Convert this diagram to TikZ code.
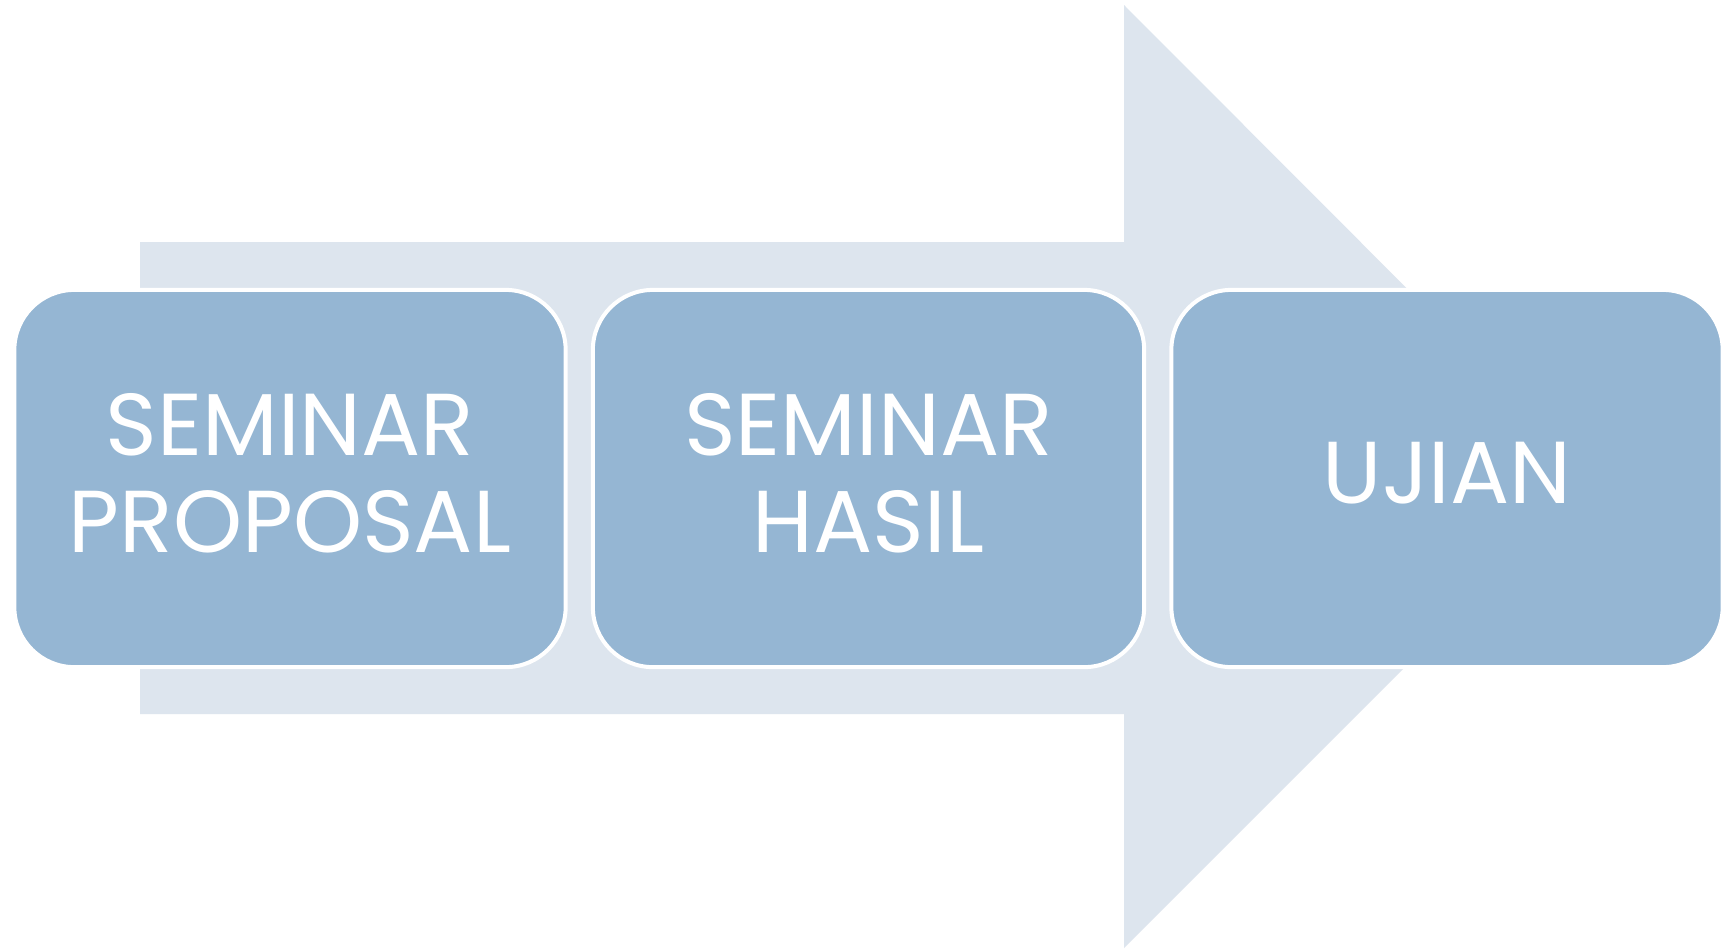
\documentclass[tikz,border=0pt]{standalone}
\usepackage{fontspec}
\setmainfont{Poppins}
\definecolor{shaftblue}{HTML}{DDE5EE}
\definecolor{boxblue}{HTML}{95B6D3}
\tikzset{
  stagebox/.style={draw=white,line width=0.04cm,fill=boxblue,rounded corners=0.6cm,
    minimum width=5.51cm,minimum height=3.77cm,align=center,text=white,
    font=\fontsize{25}{27.6}\selectfont,inner sep=0pt,text depth=0.11cm},
}
\begin{document}
\begin{tikzpicture}[x=0.01cm,y=-0.01cm]
    \fill[white] (0,0) rectangle (1731,950);
    \useasboundingbox (0,0) rectangle (1731,950);

    \fill[shaftblue] (140,242) -- (1124,242) -- (1124,5) -- (1595,477) -- (1124,948) -- (1124,714) -- (140,714) -- cycle;

    \node[stagebox] (proposal) at (290,478.5) {SEMINAR\\PROPOSAL};
    \node[stagebox] (hasil) at (868.5,478.5) {SEMINAR\\HASIL};
    \node[stagebox] (ujian) at (1447,478.5) {UJIAN};
  \end{tikzpicture}
\end{document}
